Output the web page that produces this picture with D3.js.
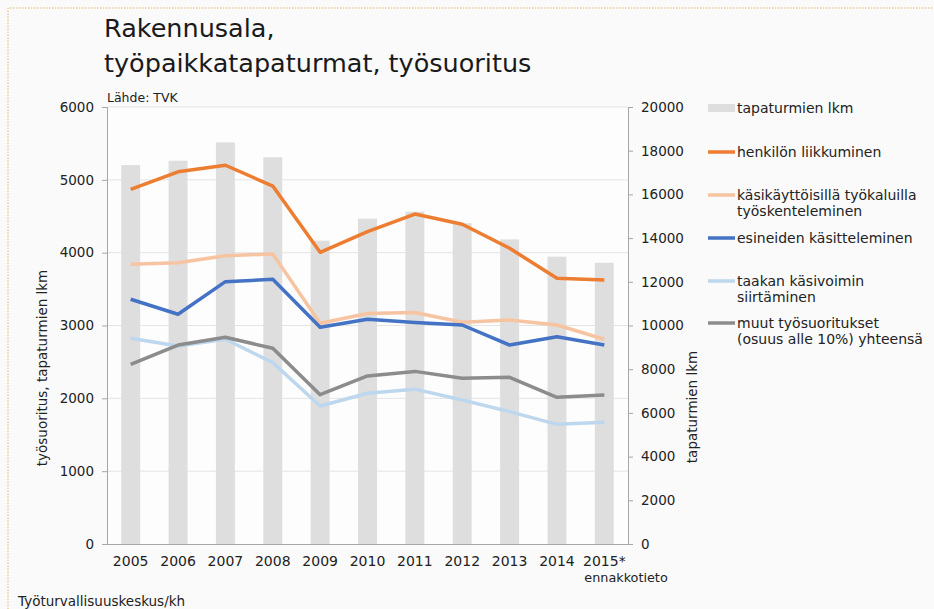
<!DOCTYPE html>
<html>
<head>
<meta charset="utf-8">
<script src="https://cdn.jsdelivr.net/npm/d3@7"></script>
<style>
    body { margin: 0; background: #fafafa; }
    svg { display: block; font-family: "DejaVu Sans", Verdana, sans-serif; }
</style>
</head>
<body>
<div id="chart"></div>
<script>
// data
const years = ["2005", "2006", "2007", "2008", "2009", "2010", "2011", "2012", "2013", "2014", "2015*"];
const accidents = [17340, 17540, 18380, 17700, 13880, 14890, 15210, 14680, 13940, 13150, 12870];
const movement = [4870, 5110, 5200, 4915, 4005, 4290, 4530, 4390, 4060, 3650, 3625];
const handTools = [3840, 3863, 3959, 3982, 3030, 3165, 3178, 3044, 3076, 3007, 2811];
const handling = [3360, 3154, 3602, 3634, 2975, 3087, 3042, 3007, 2732, 2846, 2732];
const carrying = [2824, 2719, 2811, 2490, 1895, 2070, 2126, 1977, 1817, 1643, 1671];
const others = [2467, 2732, 2838, 2687, 2050, 2307, 2370, 2275, 2289, 2014, 2046];
const leftTicks = [0, 1000, 2000, 3000, 4000, 5000, 6000];
const rightTicks = [0, 2000, 4000, 6000, 8000, 10000, 12000, 14000, 16000, 18000, 20000];

const lineSeries = [
    {name: ["henkilön liikkuminen"], values: movement, color: "#ed7d31"},
    {name: ["käsikäyttöisillä työkaluilla", "työskenteleminen"], values: handTools, color: "#f7c4a2"},
    {name: ["esineiden käsitteleminen"], values: handling, color: "#4472c4"},
    {name: ["taakan käsivoimin", "siirtäminen"], values: carrying, color: "#bdd7ee"},
    {name: ["muut työsuoritukset", "(osuus alle 10%) yhteensä"], values: others, color: "#8c8c8c"}
];

const width = 934, height = 609;
const plot = {left: 107, right: 628, top: 107, bottom: 544};
const font = "'DejaVu Sans', Verdana, sans-serif";

const svg = d3.select("#chart").append("svg")
    .attr("width", width)
    .attr("height", height);

// dotted frame edge
svg.append("path")
    .attr("d", `M8,${height} V8 H${width}`)
    .attr("fill", "none")
    .attr("stroke", "#e3b46a")
    .attr("stroke-width", 1)
    .attr("stroke-dasharray", "1.5,1.5");

svg.append("rect")
    .attr("x", plot.left).attr("y", plot.top)
    .attr("width", plot.right - plot.left).attr("height", plot.bottom - plot.top)
    .attr("fill", "#fdfdfd");

const x = d3.scaleBand()
    .domain(years)
    .range([plot.left, plot.right])
    .paddingInner(0.6)
    .paddingOuter(0.3);

const yLeft = d3.scaleLinear().domain([0, 6000]).range([plot.bottom, plot.top]);
const yRight = d3.scaleLinear().domain([0, 20000]).range([plot.bottom, plot.top]);

// gridlines
svg.append("g")
    .selectAll("line")
    .data(leftTicks.slice(1))
    .join("line")
    .attr("x1", plot.left).attr("x2", plot.right)
    .attr("y1", d => yLeft(d)).attr("y2", d => yLeft(d))
    .attr("stroke", "#e4e4e4");

// bars
svg.append("g")
    .selectAll("rect")
    .data(accidents)
    .join("rect")
    .attr("x", (d, i) => x(years[i]))
    .attr("y", d => yRight(d))
    .attr("width", x.bandwidth())
    .attr("height", d => yRight(0) - yRight(d))
    .attr("fill", "#dedede");

// lines
const line = d3.line()
    .x((d, i) => x(years[i]) + x.bandwidth() / 2)
    .y(d => yLeft(d));

svg.append("g")
    .selectAll("path")
    .data(lineSeries)
    .join("path")
    .attr("d", d => line(d.values))
    .attr("fill", "none")
    .attr("stroke", d => d.color)
    .attr("stroke-width", 3.5)
    .attr("stroke-linejoin", "round");

// axes
const leftAxis = svg.append("g")
    .attr("transform", `translate(${plot.left},0)`)
    .call(d3.axisLeft(yLeft).tickValues(leftTicks).tickSize(5).tickPadding(8).tickFormat(d3.format("d")));

const rightAxis = svg.append("g")
    .attr("transform", `translate(${plot.right},0)`)
    .call(d3.axisRight(yRight).tickValues(rightTicks).tickSize(5).tickPadding(8).tickFormat(d3.format("d")));

const bottomAxis = svg.append("g")
    .attr("transform", `translate(0,${plot.bottom})`)
    .call(d3.axisBottom(x).tickSize(0).tickPadding(12));

[leftAxis, rightAxis, bottomAxis].forEach(a => {
    a.select(".domain").attr("stroke", "#a6a6a6");
    a.selectAll(".tick line").attr("stroke", "#a6a6a6");
    a.selectAll("text").attr("fill", "#222").style("font-size", "13.5px").style("font-family", font);
});
bottomAxis.selectAll("text").style("font-size", "14px");
bottomAxis.select(".domain").attr("d", `M${plot.left},0.5H${plot.right}`);

svg.append("text")
    .attr("x", 626)
    .attr("y", 582)
    .attr("text-anchor", "middle")
    .attr("fill", "#222")
    .style("font-size", "12.8px")
    .text("ennakkotieto");

// axis titles
svg.append("text")
    .attr("transform", `translate(47,368) rotate(-90)`)
    .attr("text-anchor", "middle")
    .attr("fill", "#222")
    .style("font-size", "13.5px")
    .text("työsuoritus, tapaturmien lkm");

svg.append("text")
    .attr("transform", `translate(697,407) rotate(-90)`)
    .attr("text-anchor", "middle")
    .attr("fill", "#222")
    .style("font-size", "13.5px")
    .text("tapaturmien lkm");

// title
const title = svg.append("text")
    .attr("x", 104)
    .attr("fill", "#1a1a1a")
    .style("font-size", "25.5px");
title.append("tspan").attr("x", 104).attr("y", 37).text("Rakennusala,");
title.append("tspan").attr("x", 104).attr("y", 72).text("työpaikkatapaturmat, työsuoritus");

svg.append("text")
    .attr("x", 107).attr("y", 102)
    .attr("fill", "#222")
    .style("font-size", "12.5px")
    .text("Lähde: TVK");

svg.append("text")
    .attr("x", 18).attr("y", 606)
    .attr("fill", "#222")
    .style("font-size", "13.5px")
    .text("Työturvallisuuskeskus/kh");

// legend
const legendRows = [108, 152, 195, 238, 281, 323];
const legend = svg.append("g");
legend.append("rect")
    .attr("x", 708).attr("y", legendRows[0] - 4)
    .attr("width", 27).attr("height", 8)
    .attr("fill", "#dedede");
legend.append("text")
    .attr("x", 737).attr("y", legendRows[0] + 5)
    .attr("fill", "#222")
    .style("font-size", "14px")
    .text("tapaturmien lkm");

lineSeries.forEach((s, i) => {
    const yPos = legendRows[i + 1];
    legend.append("line")
        .attr("x1", 708).attr("x2", 735)
        .attr("y1", yPos).attr("y2", yPos)
        .attr("stroke", s.color)
        .attr("stroke-width", 3.5);
    const t = legend.append("text")
        .attr("fill", "#222")
        .style("font-size", "14px");
    s.name.forEach((n, j) => {
        t.append("tspan").attr("x", 737).attr("y", yPos + 5 + j * 16).text(n);
    });
});
</script>
</body>
</html>
